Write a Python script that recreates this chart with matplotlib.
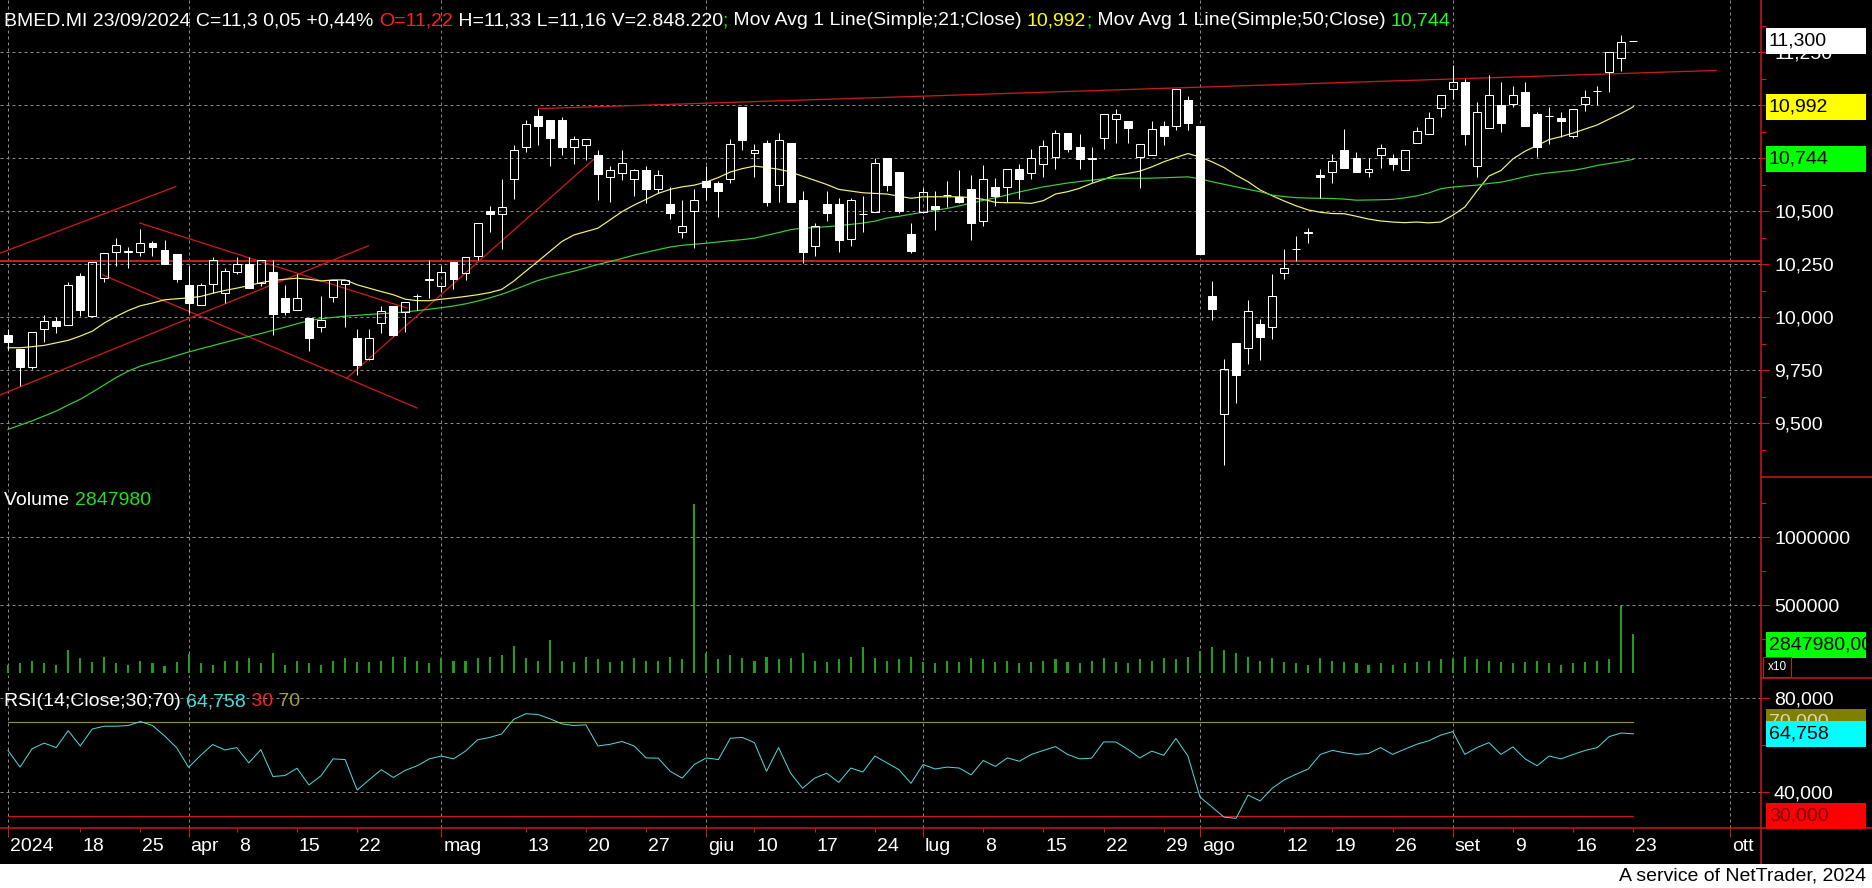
import matplotlib
matplotlib.use("Agg")
import matplotlib.pyplot as plt
import numpy as np
from matplotlib.patches import Rectangle
from matplotlib.lines import Line2D
from matplotlib.ticker import FixedLocator, FuncFormatter
import matplotlib.transforms as mtrans

plt.rcParams['font.family'] = ['Liberation Sans', 'DejaVu Sans']

# ---------------- data ----------------
opens = [9.913, 9.847, 9.764, 9.944, 9.983, 9.961, 10.194, 10.003, 10.183, 10.305,
         10.305, 10.305, 10.350, 10.316, 10.297, 10.150, 10.056, 10.155, 10.113, 10.214,
         10.248, 10.159, 10.211, 10.089, 10.034, 9.995, 9.953, 10.094, 10.156, 9.902,
         9.803, 9.972, 10.050, 10.023, 10.097, 10.175, 10.144, 10.259, 10.208, 10.286,
         10.500, 10.486, 10.653, 10.802, 10.950, 10.931, 10.931, 10.802, 10.809, 10.763,
         10.661, 10.677, 10.653, 10.692, 10.605, 10.531, 10.403, 10.502, 10.641, 10.630,
         10.653, 10.992, 10.775, 10.820, 10.625, 10.820, 10.552, 10.333, 10.531, 10.531,
         10.367, 10.484, 10.494, 10.752, 10.682, 10.392, 10.497, 10.524, 10.575, 10.567,
         10.603, 10.455, 10.611, 10.614, 10.700, 10.677, 10.724, 10.755, 10.870, 10.800,
         10.743, 10.846, 10.936, 10.923, 10.755, 10.766, 10.900, 10.901, 11.022, 10.900,
         10.100, 9.544, 9.875, 9.854, 9.969, 9.951, 10.207, 10.320, 10.398, 10.672,
         10.683, 10.790, 10.751, 10.683, 10.765, 10.751, 10.694, 10.821, 10.864, 10.986,
         11.075, 11.110, 10.712, 10.892, 11.000, 11.005, 11.063, 10.958, 10.947, 10.939,
         10.853, 11.005, 11.067, 11.154, 11.224, 11.300]
highs = [9.944, 9.850, 9.930, 10.011, 10.000, 10.167, 10.206, 10.258, 10.300, 10.372,
         10.330, 10.414, 10.358, 10.363, 10.297, 10.242, 10.160, 10.281, 10.230, 10.281,
         10.281, 10.267, 10.267, 10.150, 10.203, 9.995, 10.100, 10.175, 10.175, 9.944,
         9.944, 10.053, 10.050, 10.069, 10.110, 10.270, 10.240, 10.260, 10.283, 10.442,
         10.523, 10.650, 10.809, 10.931, 10.981, 10.931, 10.942, 10.852, 10.841, 10.789,
         10.711, 10.789, 10.700, 10.711, 10.692, 10.611, 10.552, 10.603, 10.711, 10.642,
         10.841, 10.992, 10.817, 10.833, 10.869, 10.820, 10.594, 10.442, 10.594, 10.559,
         10.563, 10.570, 10.750, 10.752, 10.682, 10.442, 10.607, 10.596, 10.641, 10.693,
         10.672, 10.719, 10.658, 10.700, 10.721, 10.792, 10.834, 10.880, 10.870, 10.862,
         10.800, 10.959, 10.983, 10.923, 10.818, 10.923, 10.923, 11.074, 11.041, 10.900,
         10.171, 9.803, 9.875, 10.082, 9.992, 10.202, 10.320, 10.382, 10.418, 10.699,
         10.770, 10.887, 10.777, 10.751, 10.817, 10.770, 10.788, 10.895, 10.969, 11.047,
         11.188, 11.125, 11.013, 11.141, 11.110, 11.091, 11.110, 10.969, 10.992, 10.969,
         10.981, 11.071, 11.091, 11.248, 11.329, 11.300]
lows = [9.844, 9.675, 9.753, 9.881, 9.925, 9.960, 10.003, 10.000, 10.167, 10.242,
        10.230, 10.289, 10.289, 10.250, 10.167, 10.019, 10.056, 10.113, 10.066, 10.203,
        10.136, 10.144, 9.917, 10.011, 10.034, 9.839, 9.928, 10.073, 9.952, 9.727,
        9.797, 9.925, 9.909, 9.930, 10.034, 10.090, 10.120, 10.130, 10.173, 10.270,
        10.403, 10.320, 10.555, 10.780, 10.810, 10.711, 10.763, 10.720, 10.739, 10.552,
        10.544, 10.648, 10.570, 10.536, 10.583, 10.463, 10.375, 10.325, 10.552, 10.473,
        10.633, 10.790, 10.661, 10.525, 10.544, 10.544, 10.255, 10.286, 10.453, 10.305,
        10.333, 10.403, 10.494, 10.595, 10.492, 10.304, 10.489, 10.410, 10.520, 10.536,
        10.364, 10.431, 10.524, 10.541, 10.555, 10.650, 10.661, 10.696, 10.776, 10.696,
        10.638, 10.792, 10.821, 10.821, 10.607, 10.766, 10.810, 10.881, 10.881, 10.296,
        9.987, 9.301, 9.596, 9.776, 9.796, 9.898, 10.179, 10.265, 10.351, 10.561,
        10.632, 10.702, 10.683, 10.660, 10.702, 10.694, 10.694, 10.821, 10.864, 10.942,
        11.028, 10.809, 10.660, 10.892, 10.871, 10.992, 10.900, 10.754, 10.817, 10.851,
        10.845, 10.970, 11.002, 11.063, 11.161, 11.300]
closes = [9.881, 9.764, 9.930, 9.983, 9.956, 10.150, 10.034, 10.258, 10.300, 10.339,
          10.310, 10.347, 10.331, 10.250, 10.180, 10.066, 10.150, 10.267, 10.219, 10.248,
          10.136, 10.267, 10.014, 10.022, 10.089, 9.902, 9.988, 10.175, 10.175, 9.773,
          9.902, 10.030, 9.917, 10.069, 10.097, 10.178, 10.212, 10.181, 10.283, 10.442,
          10.484, 10.520, 10.789, 10.911, 10.900, 10.844, 10.800, 10.841, 10.841, 10.673,
          10.692, 10.728, 10.692, 10.605, 10.672, 10.492, 10.430, 10.552, 10.614, 10.595,
          10.817, 10.833, 10.789, 10.544, 10.833, 10.544, 10.305, 10.430, 10.492, 10.364,
          10.552, 10.488, 10.728, 10.625, 10.500, 10.313, 10.591, 10.511, 10.575, 10.544,
          10.445, 10.650, 10.571, 10.700, 10.650, 10.752, 10.807, 10.870, 10.792, 10.743,
          10.752, 10.959, 10.959, 10.892, 10.818, 10.889, 10.854, 11.074, 10.915, 10.296,
          10.039, 9.755, 9.726, 10.030, 9.904, 10.100, 10.230, 10.322, 10.400, 10.660,
          10.735, 10.702, 10.683, 10.699, 10.798, 10.723, 10.788, 10.879, 10.939, 11.047,
          11.110, 10.864, 10.969, 11.047, 10.914, 11.047, 10.900, 10.801, 10.947, 10.923,
          10.981, 11.036, 11.067, 11.248, 11.299, 11.300]

sma21 = [9.855, 9.855, 9.860, 9.866, 9.878, 9.890, 9.910, 9.933, 9.972, 10.003,
         10.031, 10.053, 10.066, 10.081, 10.086, 10.090, 10.097, 10.112, 10.125, 10.136,
         10.148, 10.162, 10.172, 10.178, 10.183, 10.178, 10.170, 10.175, 10.175, 10.152,
         10.136, 10.120, 10.105, 10.084, 10.077, 10.077, 10.084, 10.090, 10.097, 10.105,
         10.115, 10.130, 10.169, 10.216, 10.262, 10.309, 10.356, 10.387, 10.403, 10.419,
         10.458, 10.497, 10.528, 10.555, 10.583, 10.602, 10.614, 10.622, 10.637, 10.658,
         10.684, 10.700, 10.712, 10.705, 10.697, 10.684, 10.664, 10.645, 10.625, 10.602,
         10.594, 10.586, 10.583, 10.580, 10.570, 10.560, 10.567, 10.567, 10.567, 10.567,
         10.563, 10.555, 10.541, 10.539, 10.539, 10.536, 10.549, 10.580, 10.591, 10.607,
         10.630, 10.649, 10.669, 10.677, 10.688, 10.708, 10.732, 10.752, 10.771, 10.755,
         10.732, 10.705, 10.669, 10.638, 10.599, 10.572, 10.547, 10.524, 10.505, 10.494,
         10.488, 10.487, 10.475, 10.462, 10.453, 10.448, 10.445, 10.448, 10.444, 10.448,
         10.480, 10.519, 10.594, 10.665, 10.691, 10.746, 10.782, 10.809, 10.837, 10.851,
         10.868, 10.887, 10.906, 10.934, 10.961, 10.992]
sma50 = [9.470, 9.490, 9.510, 9.533, 9.556, 9.585, 9.612, 9.645, 9.680, 9.715,
         9.745, 9.768, 9.785, 9.800, 9.818, 9.835, 9.850, 9.865, 9.880, 9.895,
         9.908, 9.922, 9.937, 9.952, 9.968, 9.983, 9.992, 9.998, 10.004, 10.008,
         10.012, 10.016, 10.019, 10.024, 10.030, 10.037, 10.044, 10.052, 10.062, 10.075,
         10.090, 10.107, 10.128, 10.150, 10.172, 10.188, 10.203, 10.216, 10.232, 10.248,
         10.262, 10.276, 10.292, 10.305, 10.318, 10.330, 10.338, 10.343, 10.348, 10.354,
         10.360, 10.365, 10.372, 10.385, 10.398, 10.412, 10.419, 10.422, 10.426, 10.431,
         10.437, 10.443, 10.452, 10.467, 10.475, 10.485, 10.494, 10.503, 10.512, 10.524,
         10.537, 10.550, 10.562, 10.576, 10.590, 10.602, 10.614, 10.623, 10.632, 10.639,
         10.645, 10.652, 10.655, 10.655, 10.654, 10.655, 10.657, 10.659, 10.661, 10.652,
         10.638, 10.626, 10.614, 10.602, 10.591, 10.575, 10.568, 10.563, 10.561, 10.560,
         10.559, 10.556, 10.551, 10.552, 10.553, 10.555, 10.562, 10.571, 10.585, 10.605,
         10.613, 10.618, 10.622, 10.630, 10.636, 10.648, 10.662, 10.673, 10.680, 10.686,
         10.692, 10.702, 10.715, 10.724, 10.733, 10.744]

volume = [60000, 70000, 90000, 70000, 60000, 170000, 110000, 80000, 120000, 70000,
          60000, 90000, 70000, 50000, 80000, 140000, 70000, 60000, 90000, 90000,
          110000, 70000, 150000, 60000, 90000, 70000, 60000, 90000, 110000, 80000,
          80000, 90000, 120000, 120000, 90000, 70000, 110000, 90000, 90000, 110000,
          120000, 130000, 200000, 110000, 90000, 240000, 90000, 80000, 120000, 100000,
          80000, 90000, 110000, 90000, 90000, 120000, 100000, 1240000, 150000, 100000,
          130000, 110000, 90000, 120000, 100000, 110000, 150000, 90000, 80000, 100000,
          120000, 190000, 110000, 90000, 100000, 120000, 80000, 70000, 90000, 80000,
          110000, 100000, 80000, 90000, 70000, 80000, 90000, 100000, 80000, 70000,
          90000, 110000, 80000, 70000, 100000, 90000, 110000, 100000, 120000, 160000,
          190000, 170000, 150000, 120000, 90000, 110000, 80000, 70000, 60000, 110000,
          90000, 80000, 70000, 60000, 70000, 60000, 70000, 80000, 90000, 100000,
          110000, 120000, 100000, 90000, 80000, 70000, 80000, 90000, 70000, 60000,
          70000, 80000, 90000, 100000, 490000, 284798]

rsi = [57.7, 50.6, 58.4, 60.8, 58.9, 66.1, 59.6, 66.8, 68.0, 68.0,
       68.3, 70.0, 68.3, 63.9, 58.9, 50.5, 55.6, 60.2, 57.9, 58.9,
       52.4, 58.0, 46.6, 47.0, 50.1, 43.0, 46.9, 54.1, 53.8, 40.8,
       45.2, 49.5, 46.2, 49.2, 51.2, 54.1, 55.3, 54.1, 57.4, 62.2,
       63.2, 64.7, 70.9, 73.3, 73.0, 71.2, 69.0, 68.3, 68.6, 59.6,
       60.3, 61.5, 59.6, 54.5, 54.4, 48.8, 45.9, 51.7, 54.5, 53.8,
       62.9, 63.2, 61.0, 48.8, 58.9, 48.0, 41.6, 45.9, 48.0, 44.1,
       50.2, 48.5, 55.3, 52.4, 49.5, 43.7, 51.7, 49.8, 50.6, 50.2,
       47.3, 53.4, 50.9, 54.5, 53.1, 56.0, 57.7, 59.3, 56.0, 54.1,
       54.4, 61.3, 61.3, 58.2, 54.5, 57.4, 55.6, 62.8, 55.3, 37.9,
       33.6, 29.3, 28.8, 38.7, 36.2, 41.6, 45.2, 47.6, 49.8, 56.0,
       57.7, 56.7, 56.0, 56.4, 58.9, 56.0, 58.2, 60.3, 61.8, 64.2,
       65.7, 56.0, 58.9, 61.0, 56.0, 59.2, 54.1, 51.2, 55.3, 54.1,
       56.0, 57.7, 58.9, 63.6, 65.1, 64.758]

# date axis: (bar index, label)
month_ticks = [0, 15, 36, 58, 76, 99, 120, 143]
month_labels = ['2024', 'apr', 'mag', 'giu', 'lug', 'ago', 'set', 'ott']
week_ticks = [6, 11, 19, 24, 29, 43, 48, 53, 62, 67, 72, 81, 86, 91, 96,
              106, 110, 115, 125, 130, 135]
week_labels = ['18', '25', '8', '15', '22', '13', '20', '27', '10', '17', '24',
               '8', '15', '22', '29', '12', '19', '26', '9', '16', '23']

# drawn trend lines: ((bar, price), (bar, price))
trend_lines = [((-0.66, 10.301), (13.93, 10.615)),
               ((-0.66, 9.632), (29.93, 10.336)),
               ((10.96, 10.443), (33.14, 10.042)),
               ((7.89, 10.198), (33.97, 9.571)),
               ((28.16, 9.712), (48.67, 10.745)),
               ((44.10, 10.983), (141.86, 11.163))]
support_level = 10.266

price_ticks = [9.5, 9.75, 10.0, 10.25, 10.5, 10.75, 11.0, 11.25]
price_hidden_labels = [10.75, 11.0]   # covered by the MA value boxes
volume_ticks = [500000, 1000000]
rsi_ticks = [40, 80]
rsi_levels = [30, 70]

last_close = 11.300
last_ma21 = 10.992
last_ma50 = 10.744
last_volume = 2847980
last_rsi = 64.758

header = [("BMED.MI 23/09/2024 C=11,3 0,05 +0,44% ", 'white'),
          ("O=11,22", '#ff2020'),
          (" H=11,33 L=11,16 V=2.848.220", 'white'),
          (";", '#20e020'),
          (" Mov Avg 1 Line(Simple;21;Close) ", 'white'),
          ("10,992", '#ffff00'),
          (";", '#20e020'),
          (" Mov Avg 1 Line(Simple;50;Close) ", 'white'),
          ("10,744", '#20ff20')]

# ---------------- layout ----------------
W, H = 1872, 888
PX = 0.72  # points per pixel at dpi 100
RED = '#d01818'
GRID = '#8a8a8a'
XR = 1761
BAR_PX = 12.04

fig = plt.figure(figsize=(W / 100, H / 100), dpi=100)
fig.patch.set_facecolor('black')


def fyy(ypix):
    return 1 - ypix / H


ax_p = fig.add_axes([0, fyy(477), XR / W, 477 / H])
ax_v = fig.add_axes([0, fyy(678), XR / W, (678 - 477) / H], sharex=ax_p)
ax_r = fig.add_axes([0, fyy(828), XR / W, (828 - 678) / H], sharex=ax_p)

for ax in (ax_p, ax_v, ax_r):
    ax.set_facecolor('black')
    for s in ax.spines.values():
        s.set_visible(False)

ax_p.set_xlim(-8 / BAR_PX, (XR - 8) / BAR_PX)
ax_p.set_ylim(10 - 160 / 212, 10 + 317 / 212)
ax_v.set_ylim(-5 / 136e-6, 196 / 136e-6)
ax_r.set_ylim(40 - 36 / 2.35, 80 + 20 / 2.35)

n = len(closes)
idx = np.arange(n)
o = np.array(opens); c = np.array(closes)
hi_ = np.array(highs); lo_ = np.array(lows)
up = c >= o
btop = np.maximum(o, c); bbot = np.minimum(o, c)

# grids
for ax, ticks in ((ax_p, price_ticks), (ax_v, volume_ticks), (ax_r, rsi_ticks)):
    for t in ticks:
        ax.axhline(t, color=GRID, lw=PX, ls=(0, (3, 3)), zorder=0.5)
    for m in month_ticks:
        ax.axvline(m, color=GRID, lw=PX, ls=(0, (3, 3)), zorder=0.5)

# trend lines
for (x0, y0), (x1, y1) in trend_lines:
    ax_p.plot([x0, x1], [y0, y1], color='#c81c1c', lw=1.3 * PX, zorder=1.5)
ax_p.axhline(support_level, color='#c81c1c', lw=2 * PX, zorder=1.5)

# moving averages
ax_p.plot(idx, sma21, color='#f2f27a', lw=1.2 * PX, zorder=2)
ax_p.plot(idx, sma50, color='#3ccc3c', lw=1.2 * PX, zorder=2)

# candles
ax_p.vlines(idx, btop, hi_, colors='white', lw=PX, zorder=3)
ax_p.vlines(idx, lo_, bbot, colors='white', lw=PX, zorder=3)
ax_p.bar(idx, btop - bbot, bottom=bbot, width=0.66,
         color=['none' if u else 'white' for u in up],
         edgecolor='white', linewidth=PX, zorder=4)

# volume
ax_v.bar(idx, volume, width=0.17, color='#1ea01e', zorder=3)

# rsi
ax_r.plot([0, n - 1], [rsi_levels[1]] * 2, color='#8c8c40', lw=1.2 * PX, zorder=2)
ax_r.plot([0, n - 1], [rsi_levels[0]] * 2, color='#d01818', lw=1.2 * PX, zorder=2)
ax_r.plot(idx, rsi, color='#50d8dc', lw=PX, zorder=3)


# right axes ticks
def comma3(v, pos=None):
    return ('%.3f' % v).replace('.', ',')


def price_fmt(v, pos=None):
    if any(abs(v - h) < 1e-9 for h in price_hidden_labels):
        return ''
    return comma3(v)


for ax, maj, mnr, fmt in (
        (ax_p, price_ticks, [9.375, 9.625, 9.875, 10.125, 10.375, 10.625, 10.875, 11.125, 11.375], price_fmt),
        (ax_v, volume_ticks, [250000, 750000, 1250000], lambda v, p=None: '%d' % v),
        (ax_r, rsi_ticks, [60], comma3)):
    ax.yaxis.tick_right()
    ax.yaxis.set_major_locator(FixedLocator(maj))
    ax.yaxis.set_minor_locator(FixedLocator(mnr))
    ax.yaxis.set_major_formatter(FuncFormatter(fmt))
    ax.tick_params(axis='y', which='major', direction='out', length=8 * PX, width=PX,
                   color=RED, labelcolor='white', labelsize=14, pad=5 * PX)
    ax.tick_params(axis='y', which='minor', direction='out', length=5 * PX, width=PX,
                   color=RED)

# date axis
ax_r.xaxis.set_major_locator(FixedLocator(month_ticks))
ax_r.xaxis.set_minor_locator(FixedLocator(week_ticks))
ax_r.set_xticklabels(month_labels)
ax_r.set_xticklabels(week_labels, minor=True)
ax_r.tick_params(axis='x', which='major', direction='out', length=9 * PX, width=PX,
                 color=RED, labelcolor='white', labelsize=14, pad=1 * PX)
ax_r.tick_params(axis='x', which='minor', direction='out', length=4 * PX, width=PX,
                 color=RED, labelcolor='white', labelsize=14, pad=6 * PX)
off = mtrans.ScaledTranslation(2 / 100, 0, fig.dpi_scale_trans)
for lab in ax_r.get_xticklabels() + ax_r.get_xticklabels(minor=True):
    lab.set_ha('left')
    lab.set_transform(lab.get_transform() + off)
for ax in (ax_p, ax_v):
    ax.tick_params(axis='x', which='both', bottom=False, labelbottom=False)

# frame lines
fig.add_artist(Line2D([XR / W, XR / W], [fyy(0), fyy(864)], color=RED, lw=1.5 * PX))
fig.add_artist(Line2D([XR / W, 1], [fyy(477), fyy(477)], color=RED, lw=1.5 * PX))
fig.add_artist(Line2D([XR / W, 1], [fyy(678), fyy(678)], color=RED, lw=1.5 * PX))
fig.add_artist(Line2D([0, 1], [fyy(828), fyy(828)], color=RED, lw=1.5 * PX))


# value boxes
def ypix_of(ax, v):
    return ax.transData.transform((0, v))[1]  # pixels from bottom


def box(ax, v, text, fc, tc, dy=0.0, clip=False, zo=6):
    yc = ypix_of(ax, v) + dy
    r = Rectangle((1766 / W, (yc - 13) / H), 100 / W, 26 / H, transform=fig.transFigure,
                  facecolor=fc, edgecolor='none', zorder=zo)
    fig.add_artist(r)
    t = fig.text(1769 / W, yc / H, text, ha='left', va='center', color=tc,
                 fontsize=14, zorder=zo + 0.5)
    if clip:
        t.set_clip_path(r)
        t.set_clip_on(True)
    return r


box(ax_p, last_close, comma3(last_close), 'white', 'black')
box(ax_p, last_ma21, comma3(last_ma21), '#ffff00', 'black')
box(ax_p, last_ma50, comma3(last_ma50), '#00ff00', 'black')
box(ax_v, last_volume / 10, ('%.2f' % last_volume).replace('.', ','), '#00ff00', 'black',
    dy=-11, clip=True)
# x10 marker
fig.add_artist(Rectangle((1763 / W, fyy(677)), 28 / W, 20 / H, transform=fig.transFigure,
                         facecolor='black', edgecolor=RED, lw=PX, zorder=6))
fig.text(1777 / W, fyy(667), 'x10', ha='center', va='center', color='white', fontsize=8.5,
         zorder=7)
box(ax_r, rsi_levels[1], comma3(rsi_levels[1]), '#808000', '#d8d8c0', zo=6)
box(ax_r, last_rsi, comma3(last_rsi), '#00ffff', 'black', zo=8)
box(ax_r, rsi_levels[0], comma3(rsi_levels[0]), '#ff0000', '#7a0000', zo=6)

# multi-coloured label lines
renderer = fig.canvas.get_renderer()


def colored_line(x0, ybase, segments, size=14):
    prefix = ''
    probe = fig.text(0, 0, 'x', fontsize=size)
    wx = probe.get_window_extent(renderer).width
    for s, col in segments:
        probe.set_text(prefix + 'x')
        x = x0 + (probe.get_window_extent(renderer).width - wx if prefix else 0)
        fig.text(x / W, fyy(ybase), s, color=col, fontsize=size, ha='left', va='baseline',
                 zorder=5)
        prefix += s
    probe.remove()


colored_line(4, 25, header)
colored_line(4, 505, [("Volume ", 'white'), (str(last_volume), '#20e020')])
colored_line(4, 706, [("RSI(14;Close;30;70) ", 'white'), (comma3(last_rsi), '#40e0e0'),
                      (" 30", '#ff2020'), (" 70", '#a0a040')])

# footer
fig.add_artist(Rectangle((0, 0), 1, 24 / H, transform=fig.transFigure,
                         facecolor='white', edgecolor='none', zorder=9))
fig.text(1866 / W, fyy(876), 'A service of NetTrader, 2024', ha='right', va='center',
         color='black', fontsize=14, zorder=10)

fig.savefig('out.png', dpi=100, facecolor='black')
